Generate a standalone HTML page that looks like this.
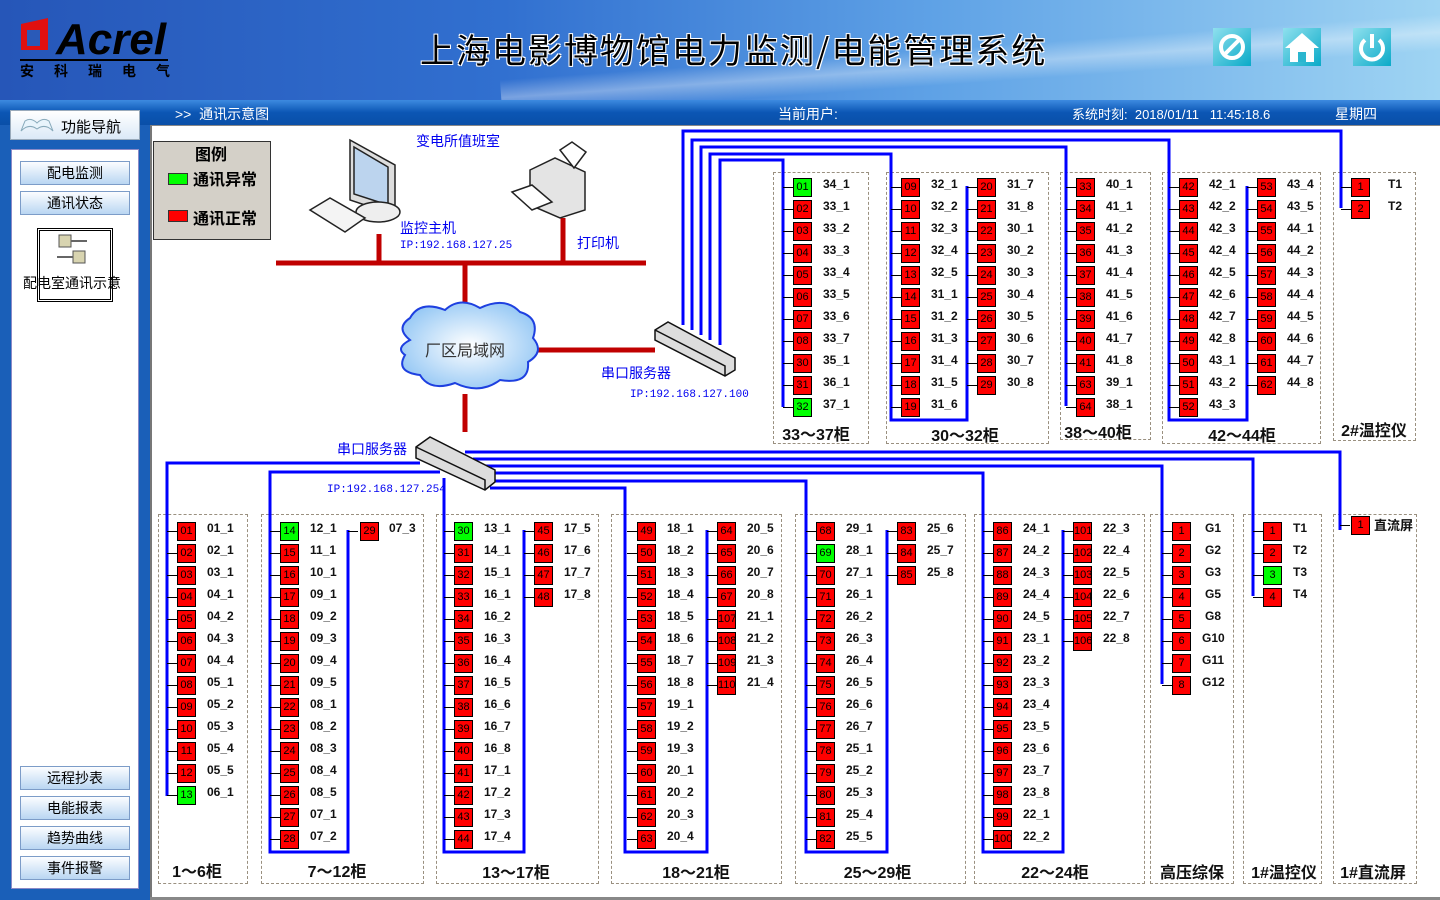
<!DOCTYPE html>
<html><head><meta charset="utf-8">
<style>
*{box-sizing:content-box}
body{margin:0;width:1440px;height:900px;position:relative;overflow:hidden;background:#1a5fb8;font-family:"Liberation Sans","Noto Sans CJK SC",sans-serif}
.abs{position:absolute}
#hdr{left:0;top:0;width:1440px;height:100px;background:linear-gradient(to right,#2656b8 0%,#3170d0 35%,#5fa2e6 65%,#9fd4f3 100%)}
#streak{left:500px;top:45px;width:1000px;height:36px;background:linear-gradient(to bottom,rgba(255,255,255,0),rgba(255,255,255,.35),rgba(255,255,255,0));transform:rotate(-4deg)}
#nav{left:0;top:100px;width:1440px;height:25px;background:linear-gradient(#3d8ae0,#0b56b4 50%,#0a4fa8)}
#nav span{position:absolute;top:4px;color:#fff;font-size:14px}
#main{left:150px;top:125px;width:1290px;height:772px;background:#fff;border-left:2px solid #777;border-top:1px solid #888}
#foot{left:150px;top:897px;width:1290px;height:3px;background:#888}
.side{left:11px;width:126px;background:#fff;border:1px solid #8a8ac8}
.btn{position:absolute;left:20px;width:108px;height:22px;border:1px solid #7c9cc8;background:linear-gradient(#fbfdff,#b9d6f2);text-align:center;font-size:14px;line-height:22px;color:#000}
.dash{position:absolute;border:1px dashed #9a9080}
.gl{position:absolute;font:bold 16px "Liberation Sans","Noto Sans CJK SC",sans-serif;text-align:center;color:#111}
.c{position:absolute}
.c p{position:relative;height:22px;margin:0;padding-left:40px;line-height:22px;font:bold 12px "Liberation Sans","Noto Sans CJK SC",sans-serif;color:#111;white-space:nowrap}
.c p::before{content:"";position:absolute;left:0;top:10px;width:10px;height:1px;background:#000}
.c b{position:absolute;left:10px;top:1px;width:17px;height:17px;border:1px solid #000;background:#f00;font:11px/17px "Liberation Sans",sans-serif;text-align:center;color:#000}
.c b.g{background:#0f0}
</style></head><body>
<div id="hdr" class="abs"></div>
<div id="streak" class="abs"></div>
<svg class="abs" style="left:18px;top:16px" width="160" height="64">
<path d="M3 8 L30 2 L30 34 L3 34 Z" fill="#e01010"/><path d="M9 14 L22 14 L22 30 L9 30 Z" fill="#2a5ab8"/>
<text x="38" y="38" font-family="Liberation Sans" font-weight="bold" font-style="italic" font-size="44" fill="#000">Acrel</text>
<rect x="2" y="43" width="148" height="2" fill="#000"/>
<text x="2" y="60" font-family="Noto Sans CJK SC" font-weight="bold" font-size="14" fill="#000" letter-spacing="20">安科瑞电气</text>
</svg>
<div class="abs" style="left:420px;top:24px;font-size:34px;color:#000;text-shadow:1px 1px 0 #fff,-1px -1px 0 #fff,1px -1px 0 #fff,-1px 1px 0 #fff;font-family:'Noto Sans CJK SC',sans-serif;letter-spacing:2px">上海电影博物馆电力监测/电能管理系统</div>
<svg class="abs" style="left:1213px;top:28px" width="180" height="40">
<defs><linearGradient id="ic" x1="0" y1="0" x2="1" y2="1"><stop offset="0" stop-color="#8fe0ee"/><stop offset="1" stop-color="#0aaac8"/></linearGradient></defs>
<rect x="0" y="0" width="38" height="38" fill="url(#ic)"/>
<circle cx="19" cy="19" r="11" fill="none" stroke="#fff" stroke-width="4"/><line x1="11" y1="27" x2="27" y2="11" stroke="#fff" stroke-width="4"/>
<rect x="70" y="0" width="38" height="38" fill="url(#ic)"/>
<path d="M72 20 L89 5 L106 20 L101 20 L101 34 L77 34 L77 20 Z" fill="#fff"/><rect x="85" y="24" width="8" height="10" fill="#2bb6cf"/>
<rect x="140" y="0" width="38" height="38" fill="url(#ic)"/>
<path d="M152 12 A11 11 0 1 0 166 12" fill="none" stroke="#fff" stroke-width="4"/><line x1="159" y1="6" x2="159" y2="20" stroke="#fff" stroke-width="4"/>
</svg>
<div id="nav" class="abs">
<span style="left:175px">&gt;&gt;&nbsp; 通讯示意图</span>
<span style="left:778px">当前用户:</span>
<span style="left:1072px;font-size:13px">系统时刻: &nbsp;2018/01/11 &nbsp; 11:45:18.6</span>
<span style="left:1335px">星期四</span>
</div>
<div class="abs" style="left:10px;top:110px;width:128px;height:28px;border:1px solid #9ab;background:linear-gradient(#fff,#dbe9f7)"><span style="position:absolute;left:50px;top:5px;font-size:15px">功能导航</span>
<svg class="abs" style="left:8px;top:4px" width="36" height="20"><path d="M2 16 Q10 8 18 14 Q26 8 34 16 L30 6 Q24 2 18 8 Q12 2 6 6 Z" fill="#e8f4fc" stroke="#8ab" /></svg></div>
<div class="abs side" style="top:149px;height:738px"></div>
<div class="btn" style="top:161px">配电监测</div>
<div class="btn" style="top:191px">通讯状态</div>
<div class="abs" style="left:37px;top:228px;width:70px;height:68px;border:3px double #000;background:#fff"></div>
<svg class="abs" style="left:55px;top:233px" width="36" height="34"><rect x="4" y="2" width="12" height="12" fill="#d8d4b0" stroke="#555"/><line x1="16" y1="8" x2="32" y2="8" stroke="#666" stroke-width="2"/><rect x="18" y="18" width="12" height="12" fill="#d8d4b0" stroke="#555"/><line x1="2" y1="24" x2="18" y2="24" stroke="#666" stroke-width="2"/></svg>
<div class="abs" style="left:23px;top:273px;font-size:14px">配电室通讯示意</div>
<div class="btn" style="top:766px">远程抄表</div>
<div class="btn" style="top:796px">电能报表</div>
<div class="btn" style="top:826px">趋势曲线</div>
<div class="btn" style="top:856px">事件报警</div>
<div id="main" class="abs"></div>
<div id="foot" class="abs"></div>
<div class="abs" style="left:153px;top:141px;width:116px;height:97px;background:#d4d0c8;border:1px solid #333"></div>
<div class="abs" style="left:195px;top:141px;font:bold 16px 'Noto Sans CJK SC',sans-serif">图例</div>
<div class="abs" style="left:168px;top:173px;width:18px;height:10px;background:#0f0;border:1px solid #333"></div>
<div class="abs" style="left:193px;top:166px;font:bold 16px 'Noto Sans CJK SC',sans-serif">通讯异常</div>
<div class="abs" style="left:168px;top:210px;width:18px;height:10px;background:#f00;border:1px solid #333"></div>
<div class="abs" style="left:193px;top:205px;font:bold 16px 'Noto Sans CJK SC',sans-serif">通讯正常</div>

<div class="dash" style="left:773px;top:172px;width:94px;height:270px"></div>
<div class="dash" style="left:886px;top:172px;width:161px;height:270px"></div>
<div class="dash" style="left:1060px;top:172px;width:89px;height:266px"></div>
<div class="dash" style="left:1162px;top:172px;width:157px;height:270px"></div>
<div class="dash" style="left:1333px;top:172px;width:81px;height:267px"></div>
<div class="dash" style="left:158px;top:514px;width:88px;height:368px"></div>
<div class="dash" style="left:261px;top:514px;width:161px;height:368px"></div>
<div class="dash" style="left:436px;top:514px;width:161px;height:368px"></div>
<div class="dash" style="left:611px;top:514px;width:169px;height:368px"></div>
<div class="dash" style="left:795px;top:514px;width:169px;height:368px"></div>
<div class="dash" style="left:974px;top:514px;width:169px;height:368px"></div>
<div class="dash" style="left:1150px;top:514px;width:82px;height:368px"></div>
<div class="dash" style="left:1243px;top:514px;width:77px;height:368px"></div>
<div class="dash" style="left:1333px;top:514px;width:82px;height:368px"></div>
<div class="gl" style="left:773px;top:421px;width:86px">33～37柜</div>
<div class="gl" style="left:886px;top:422px;width:158px">30～32柜</div>
<div class="gl" style="left:1060px;top:419px;width:76px">38～40柜</div>
<div class="gl" style="left:1162px;top:422px;width:160px">42～44柜</div>
<div class="gl" style="left:1333px;top:417px;width:82px">2#温控仪</div>
<div class="gl" style="left:158px;top:858px;width:78px">1～6柜</div>
<div class="gl" style="left:261px;top:858px;width:152px">7～12柜</div>
<div class="gl" style="left:436px;top:859px;width:160px">13～17柜</div>
<div class="gl" style="left:611px;top:859px;width:170px">18～21柜</div>
<div class="gl" style="left:795px;top:859px;width:165px">25～29柜</div>
<div class="gl" style="left:974px;top:859px;width:162px">22～24柜</div>
<div class="gl" style="left:1150px;top:859px;width:84px">高压综保</div>
<div class="gl" style="left:1243px;top:859px;width:82px">1#温控仪</div>
<div class="gl" style="left:1333px;top:859px;width:80px">1#直流屏</div>

<svg class="abs" style="left:0;top:0" width="1440" height="900">
<g fill="none" stroke="#0000ff" stroke-width="3">
<polyline points="683,325 683,131 1341,131 1341,208"/>
<polyline points="692,330 692,140 1169,140 1169,420 1247,420 1247,186"/>
<polyline points="701,335 701,147 1066,147 1066,406"/>
<polyline points="710,340 710,154 891,154 891,420 967,420 967,186"/>
<polyline points="720,345 720,160 783,160 783,407"/>
<polyline points="420,463 167,463 167,796"/>
<polyline points="440,472 270,472 270,852 348,852 348,530"/>
<polyline points="444,478 444,852 524,852 524,530"/>
<polyline points="490,488 625,488 625,852 707,852 707,530"/>
<polyline points="490,481 806,481 806,852 887,852 887,530"/>
<polyline points="490,473 983,473 983,852 1063,852 1063,530"/>
<polyline points="484,466 1162,466 1162,684"/>
<polyline points="473,459 1253,459 1253,596"/>
<polyline points="465,452 1340,452 1340,530"/>
</g>
<g stroke="#c00000" stroke-width="5" fill="none">
<line x1="276" y1="263" x2="646" y2="263"/>
<line x1="379" y1="234" x2="379" y2="263"/>
<line x1="563" y1="218" x2="563" y2="263"/>
<line x1="465" y1="263" x2="465" y2="306"/>
<line x1="538" y1="350" x2="655" y2="350"/>
<line x1="465" y1="394" x2="465" y2="432"/>
</g>
<g stroke="#222" stroke-width="1.5">
<path d="M350 140 L395 165 L395 215 L350 200 Z" fill="#ddd"/>
<path d="M354 147 L388 167 L388 205 L354 194 Z" fill="#bcd4ee"/>
<ellipse cx="378" cy="212" rx="22" ry="10" fill="#eee"/>
<path d="M310 210 L330 198 L365 218 L345 232 Z" fill="#f4f4f4"/>
</g>
<g stroke="#222" stroke-width="1.5">
<path d="M530 170 L555 158 L585 172 L585 210 L560 218 L530 205 Z" fill="#e4e4e4"/>
<path d="M560 150 L572 142 L586 152 L574 168 Z" fill="#fff"/>
<path d="M512 192 L532 185 L552 202 L532 210 Z" fill="#fff"/>
</g>
<defs><radialGradient id="cl" cx=".5" cy=".5" r=".6"><stop offset="0" stop-color="#fff"/><stop offset="1" stop-color="#8ec4f4"/></radialGradient></defs>
<path d="M410 340 Q395 328 410 318 Q420 300 445 310 Q460 296 480 308 Q505 296 520 312 Q540 318 533 338 Q545 352 528 362 Q530 385 500 380 Q480 395 455 383 Q430 392 420 375 Q395 372 405 355 Q395 348 410 340 Z" fill="url(#cl)" stroke="#1e40e0" stroke-width="2"/>
<text x="425" y="356" font-size="16" fill="#333" font-family="Noto Sans CJK SC">厂区局域网</text>
<g stroke="#111" stroke-width="1.5">
<path d="M655 330 L668 322 L735 358 L735 370 L725 376 L655 340 Z" fill="#ddd"/>
<path d="M655 330 L725 366 L725 376" fill="none"/>
<path d="M416 447 L430 437 L495 470 L495 482 L485 490 L416 458 Z" fill="#ddd"/>
<path d="M416 447 L485 480 L485 490" fill="none"/>
</g>
<g font-family="Noto Sans CJK SC" fill="#0000f0">
<text x="416" y="146" font-size="14">变电所值班室</text>
<text x="400" y="233" font-size="14">监控主机</text>
<text x="577" y="248" font-size="14">打印机</text>
<text x="601" y="378" font-size="14">串口服务器</text>
<text x="337" y="454" font-size="14">串口服务器</text>
</g>
<g font-family="Liberation Mono" fill="#0000f0" font-size="11">
<text x="400" y="248">IP:192.168.127.25</text>
<text x="630" y="397">IP:192.168.127.100</text>
<text x="327" y="492">IP:192.168.127.254</text>
</g>
</svg>

<div class="c" style="left:783px;top:177px"><p><b class="g">01</b>34_1</p><p><b>02</b>33_1</p><p><b>03</b>33_2</p><p><b>04</b>33_3</p><p><b>05</b>33_4</p><p><b>06</b>33_5</p><p><b>07</b>33_6</p><p><b>08</b>33_7</p><p><b>30</b>35_1</p><p><b>31</b>36_1</p><p><b class="g">32</b>37_1</p></div>
<div class="c" style="left:891px;top:177px"><p><b>09</b>32_1</p><p><b>10</b>32_2</p><p><b>11</b>32_3</p><p><b>12</b>32_4</p><p><b>13</b>32_5</p><p><b>14</b>31_1</p><p><b>15</b>31_2</p><p><b>16</b>31_3</p><p><b>17</b>31_4</p><p><b>18</b>31_5</p><p><b>19</b>31_6</p></div>
<div class="c" style="left:967px;top:177px"><p><b>20</b>31_7</p><p><b>21</b>31_8</p><p><b>22</b>30_1</p><p><b>23</b>30_2</p><p><b>24</b>30_3</p><p><b>25</b>30_4</p><p><b>26</b>30_5</p><p><b>27</b>30_6</p><p><b>28</b>30_7</p><p><b>29</b>30_8</p></div>
<div class="c" style="left:1066px;top:177px"><p><b>33</b>40_1</p><p><b>34</b>41_1</p><p><b>35</b>41_2</p><p><b>36</b>41_3</p><p><b>37</b>41_4</p><p><b>38</b>41_5</p><p><b>39</b>41_6</p><p><b>40</b>41_7</p><p><b>41</b>41_8</p><p><b>63</b>39_1</p><p><b>64</b>38_1</p></div>
<div class="c" style="left:1169px;top:177px"><p><b>42</b>42_1</p><p><b>43</b>42_2</p><p><b>44</b>42_3</p><p><b>45</b>42_4</p><p><b>46</b>42_5</p><p><b>47</b>42_6</p><p><b>48</b>42_7</p><p><b>49</b>42_8</p><p><b>50</b>43_1</p><p><b>51</b>43_2</p><p><b>52</b>43_3</p></div>
<div class="c" style="left:1247px;top:177px"><p><b>53</b>43_4</p><p><b>54</b>43_5</p><p><b>55</b>44_1</p><p><b>56</b>44_2</p><p><b>57</b>44_3</p><p><b>58</b>44_4</p><p><b>59</b>44_5</p><p><b>60</b>44_6</p><p><b>61</b>44_7</p><p><b>62</b>44_8</p></div>
<div class="c" style="left:1341px;top:177px"><p style="padding-left:47px"><b>1</b>T1</p><p style="padding-left:47px"><b>2</b>T2</p></div>

<div class="c" style="left:167px;top:521px"><p><b>01</b>01_1</p><p><b>02</b>02_1</p><p><b>03</b>03_1</p><p><b>04</b>04_1</p><p><b>05</b>04_2</p><p><b>06</b>04_3</p><p><b>07</b>04_4</p><p><b>08</b>05_1</p><p><b>09</b>05_2</p><p><b>10</b>05_3</p><p><b>11</b>05_4</p><p><b>12</b>05_5</p><p><b class="g">13</b>06_1</p></div>
<div class="c" style="left:270px;top:521px"><p><b class="g">14</b>12_1</p><p><b>15</b>11_1</p><p><b>16</b>10_1</p><p><b>17</b>09_1</p><p><b>18</b>09_2</p><p><b>19</b>09_3</p><p><b>20</b>09_4</p><p><b>21</b>09_5</p><p><b>22</b>08_1</p><p><b>23</b>08_2</p><p><b>24</b>08_3</p><p><b>25</b>08_4</p><p><b>26</b>08_5</p><p><b>27</b>07_1</p><p><b>28</b>07_2</p></div>
<div class="c" style="left:348px;top:521px"><p style="padding-left:41px"><b style="left:12px">29</b>07_3</p></div>
<div class="c" style="left:444px;top:521px"><p><b class="g">30</b>13_1</p><p><b>31</b>14_1</p><p><b>32</b>15_1</p><p><b>33</b>16_1</p><p><b>34</b>16_2</p><p><b>35</b>16_3</p><p><b>36</b>16_4</p><p><b>37</b>16_5</p><p><b>38</b>16_6</p><p><b>39</b>16_7</p><p><b>40</b>16_8</p><p><b>41</b>17_1</p><p><b>42</b>17_2</p><p><b>43</b>17_3</p><p><b>44</b>17_4</p></div>
<div class="c" style="left:524px;top:521px"><p><b>45</b>17_5</p><p><b>46</b>17_6</p><p><b>47</b>17_7</p><p><b>48</b>17_8</p></div>
<div class="c" style="left:627px;top:521px"><p><b>49</b>18_1</p><p><b>50</b>18_2</p><p><b>51</b>18_3</p><p><b>52</b>18_4</p><p><b>53</b>18_5</p><p><b>54</b>18_6</p><p><b>55</b>18_7</p><p><b>56</b>18_8</p><p><b>57</b>19_1</p><p><b>58</b>19_2</p><p><b>59</b>19_3</p><p><b>60</b>20_1</p><p><b>61</b>20_2</p><p><b>62</b>20_3</p><p><b>63</b>20_4</p></div>
<div class="c" style="left:707px;top:521px"><p><b>64</b>20_5</p><p><b>65</b>20_6</p><p><b>66</b>20_7</p><p><b>67</b>20_8</p><p><b>107</b>21_1</p><p><b>108</b>21_2</p><p><b>109</b>21_3</p><p><b>110</b>21_4</p></div>
<div class="c" style="left:806px;top:521px"><p><b>68</b>29_1</p><p><b class="g">69</b>28_1</p><p><b>70</b>27_1</p><p><b>71</b>26_1</p><p><b>72</b>26_2</p><p><b>73</b>26_3</p><p><b>74</b>26_4</p><p><b>75</b>26_5</p><p><b>76</b>26_6</p><p><b>77</b>26_7</p><p><b>78</b>25_1</p><p><b>79</b>25_2</p><p><b>80</b>25_3</p><p><b>81</b>25_4</p><p><b>82</b>25_5</p></div>
<div class="c" style="left:887px;top:521px"><p><b>83</b>25_6</p><p><b>84</b>25_7</p><p><b>85</b>25_8</p></div>
<div class="c" style="left:983px;top:521px"><p><b>86</b>24_1</p><p><b>87</b>24_2</p><p><b>88</b>24_3</p><p><b>89</b>24_4</p><p><b>90</b>24_5</p><p><b>91</b>23_1</p><p><b>92</b>23_2</p><p><b>93</b>23_3</p><p><b>94</b>23_4</p><p><b>95</b>23_5</p><p><b>96</b>23_6</p><p><b>97</b>23_7</p><p><b>98</b>23_8</p><p><b>99</b>22_1</p><p><b>100</b>22_2</p></div>
<div class="c" style="left:1063px;top:521px"><p><b>101</b>22_3</p><p><b>102</b>22_4</p><p><b>103</b>22_5</p><p><b>104</b>22_6</p><p><b>105</b>22_7</p><p><b>106</b>22_8</p></div>
<div class="c" style="left:1162px;top:521px"><p style="padding-left:43px"><b>1</b>G1</p><p style="padding-left:43px"><b>2</b>G2</p><p style="padding-left:43px"><b>3</b>G3</p><p style="padding-left:43px"><b>4</b>G5</p><p style="padding-left:43px"><b>5</b>G8</p><p style="padding-left:40px"><b>6</b>G10</p><p style="padding-left:40px"><b>7</b>G11</p><p style="padding-left:40px"><b>8</b>G12</p></div>
<div class="c" style="left:1253px;top:521px"><p style="padding-left:40px"><b>1</b>T1</p><p style="padding-left:40px"><b>2</b>T2</p><p style="padding-left:40px"><b class="g">3</b>T3</p><p style="padding-left:40px"><b>4</b>T4</p></div>
<div class="c" style="left:1340px;top:515px"><p style="padding-left:34px;font-size:13px"><b style="left:11px">1</b>直流屏</p></div>
</body></html>
